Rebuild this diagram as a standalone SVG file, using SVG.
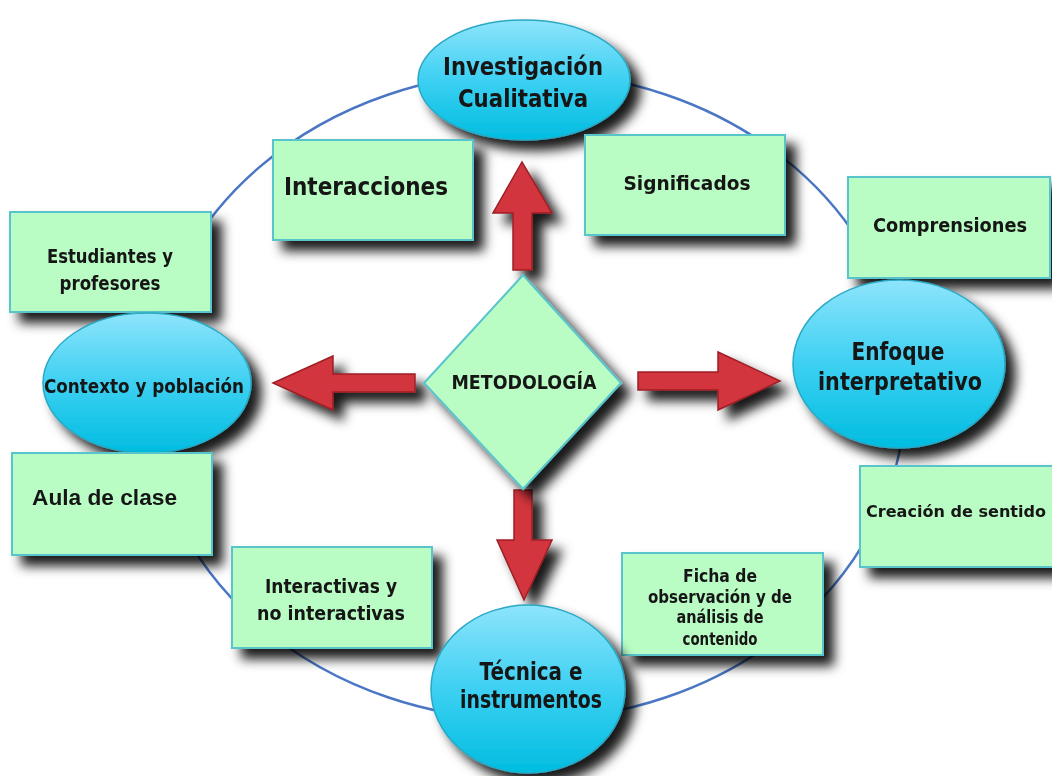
<svg xmlns="http://www.w3.org/2000/svg" width="1052" height="776" viewBox="0 0 1052 776">
  <defs>
    <filter id="sh" x="-20%" y="-20%" width="150%" height="150%">
      <feGaussianBlur in="SourceAlpha" stdDeviation="6"/>
      <feOffset dx="10" dy="10" result="b"/>
      <feFlood flood-color="#000" flood-opacity="0.9"/>
      <feComposite in2="b" operator="in" result="s"/>
      <feMerge><feMergeNode in="s"/><feMergeNode in="SourceGraphic"/></feMerge>
    </filter>
    <linearGradient id="blue" x1="0" y1="0" x2="0" y2="1">
      <stop offset="0" stop-color="#8ee4fc"/>
      <stop offset="0.5" stop-color="#3dd0f2"/>
      <stop offset="1" stop-color="#00bde0"/>
    </linearGradient>
    <style>
      .box { fill: #b9fcc4; stroke: #58c4cc; stroke-width: 2; }
      .ell { fill: url(#blue); stroke: #2aa8c4; stroke-width: 1.5; }
      .arr { fill: #d2363d; stroke: #9e1f26; stroke-width: 1.5; }
      .t { font-family: "DejaVu Sans", "Noto Sans", sans-serif; font-weight: bold; fill: #141414; text-anchor: middle; }
      .a { font-family: "Liberation Sans", Arial, sans-serif; font-weight: bold; fill: #141414; }
    </style>
  </defs>
  <rect width="1052" height="776" fill="#fff"/>

  <g id="ring">
    <ellipse cx="527" cy="396" rx="378" ry="324" fill="none" stroke="#4a76c4" stroke-width="2.5"/>
  </g>

  <g id="connectors" filter="url(#sh)">
    <path class="arr" d="M513,270 L513,213 L493,213 L522,162 L552,213 L532,213 L532,270 Z"/>
    <path class="arr" d="M415,374 L333,374 L333,356 L273,383 L333,410 L333,392 L415,392 Z"/>
    <path class="arr" d="M638,372 L718,372 L718,352 L780,381 L718,410 L718,390 L638,390 Z"/>
    <path class="arr" d="M514,490 L514,540 L497,540 L524,600 L552,540 L532,540 L532,490 Z"/>
  </g>

  <g id="investigacion" filter="url(#sh)">
    <ellipse class="ell" cx="524" cy="80" rx="106" ry="60"/>
    <text class="t" x="523" y="75" font-size="25" textLength="160" lengthAdjust="spacingAndGlyphs">Investigación</text>
    <text class="t" x="523" y="107" font-size="25" textLength="130" lengthAdjust="spacingAndGlyphs">Cualitativa</text>
  </g>

  <g id="interacciones" filter="url(#sh)">
    <rect class="box" x="273" y="140" width="200" height="100"/>
    <text class="t" x="366" y="195" font-size="24" textLength="164" lengthAdjust="spacingAndGlyphs">Interacciones</text>
  </g>

  <g id="significados" filter="url(#sh)">
    <rect class="box" x="585" y="135" width="200" height="100"/>
    <text class="t" x="687" y="190" font-size="19" textLength="127" lengthAdjust="spacingAndGlyphs">Significados</text>
  </g>

  <g id="comprensiones" filter="url(#sh)">
    <rect class="box" x="848" y="177" width="202" height="101"/>
    <text class="t" x="950" y="232" font-size="19" textLength="154" lengthAdjust="spacingAndGlyphs">Comprensiones</text>
  </g>

  <g id="estudiantes" filter="url(#sh)">
    <rect class="box" x="10" y="212" width="201" height="100"/>
    <text class="t" x="110" y="263" font-size="19" textLength="126" lengthAdjust="spacingAndGlyphs">Estudiantes y</text>
    <text class="t" x="110" y="290" font-size="19" textLength="101" lengthAdjust="spacingAndGlyphs">profesores</text>
  </g>

  <g id="contexto" filter="url(#sh)">
    <ellipse class="ell" cx="147" cy="383" rx="104" ry="70"/>
    <text class="t" x="144" y="393" font-size="20" textLength="200" lengthAdjust="spacingAndGlyphs">Contexto y población</text>
  </g>

  <g id="metodologia" filter="url(#sh)">
    <path class="box" d="M523,275 L621,383 L523,489 L424,383 Z"/>
    <text class="t" x="524" y="389" font-size="19" textLength="145" lengthAdjust="spacingAndGlyphs">METODOLOGÍA</text>
  </g>

  <g id="enfoque" filter="url(#sh)">
    <ellipse class="ell" cx="899" cy="364" rx="106" ry="84"/>
    <text class="t" x="898" y="360" font-size="25" textLength="93" lengthAdjust="spacingAndGlyphs">Enfoque</text>
    <text class="t" x="900" y="390" font-size="25" textLength="164" lengthAdjust="spacingAndGlyphs">interpretativo</text>
  </g>

  <g id="aula" filter="url(#sh)">
    <rect class="box" x="12" y="453" width="200" height="102"/>
    <text class="a" x="32" y="505" font-size="22.5" textLength="145" lengthAdjust="spacingAndGlyphs">Aula de clase</text>
  </g>

  <g id="creacion" filter="url(#sh)">
    <rect class="box" x="860" y="466" width="204" height="101"/>
    <text class="t" x="956" y="517" font-size="16.5" textLength="180" lengthAdjust="spacingAndGlyphs">Creación de sentido</text>
  </g>

  <g id="interactivas" filter="url(#sh)">
    <rect class="box" x="232" y="547" width="200" height="101"/>
    <text class="t" x="331" y="593" font-size="19" textLength="132" lengthAdjust="spacingAndGlyphs">Interactivas y</text>
    <text class="t" x="331" y="620" font-size="19" textLength="148" lengthAdjust="spacingAndGlyphs">no interactivas</text>
  </g>

  <g id="ficha" filter="url(#sh)">
    <rect class="box" x="622" y="553" width="201" height="102"/>
    <text class="t" x="720" y="582" font-size="17" textLength="74" lengthAdjust="spacingAndGlyphs">Ficha de</text>
    <text class="t" x="720" y="603" font-size="17" textLength="144" lengthAdjust="spacingAndGlyphs">observación y de</text>
    <text class="t" x="720" y="623" font-size="17" textLength="87" lengthAdjust="spacingAndGlyphs">análisis de</text>
    <text class="t" x="720" y="645" font-size="17" textLength="75" lengthAdjust="spacingAndGlyphs">contenido</text>
  </g>

  <g id="tecnica" filter="url(#sh)">
    <ellipse class="ell" cx="528" cy="689" rx="97" ry="84"/>
    <text class="t" x="531" y="680" font-size="25" textLength="103" lengthAdjust="spacingAndGlyphs">Técnica e</text>
    <text class="t" x="531" y="708" font-size="25" textLength="142" lengthAdjust="spacingAndGlyphs">instrumentos</text>
  </g>
</svg>
